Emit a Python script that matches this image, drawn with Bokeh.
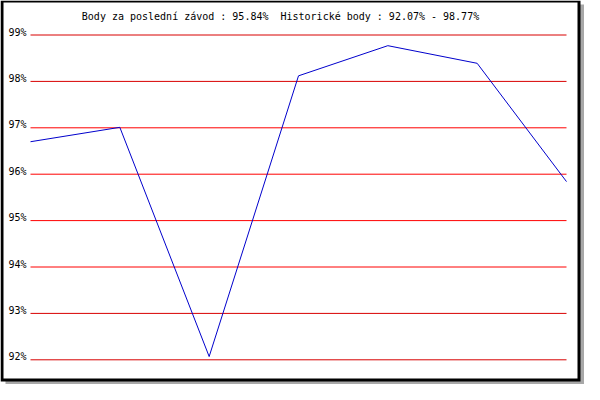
from bokeh.plotting import figure
from bokeh.models import Label
from bokeh.core.properties import value
from bokeh.embed import file_html
from bokeh.resources import INLINE

# ---- data ----
race_index = [0, 1, 2, 3, 4, 5, 6]
points_pct = [96.70, 97.01, 92.07, 98.12, 98.77, 98.39, 95.84]
grid_values = [92, 93, 94, 95, 96, 97, 98, 99]
grid_labels = ["92%", "93%", "94%", "95%", "96%", "97%", "98%", "99%"]
grid_colors = ["#d80000", "#d80000", "#ff0000", "#ff0000", "#ff0000", "#ff0000", "#d80000", "#d80000"]
title_text = (f"Body za poslední závod : {points_pct[-1]:.2f}%\u00a0 "
              f"Historické body : {min(points_pct):.2f}% - {max(points_pct):.2f}%")

# ---- layout (pixels within the figure) ----
W, H = 584, 384
gx0, gx1 = 30.0, 566.0          # horizontal extent of the grid
gy_top, gy_bot = 34.5, 359.3    # pixel y of 99% and 92%
ppx = (gx1 - gx0) / (race_index[-1] - race_index[0])
ppy = (gy_bot - gy_top) / (grid_values[-1] - grid_values[0])
x_start = race_index[0] - gx0 / ppx
x_end = race_index[-1] + (W - gx1) / ppx
y_end = grid_values[-1] + gy_top / ppy
y_start = grid_values[0] - (H - gy_bot) / ppy


def fx(px):
    return x_start + px / ppx


def fy(py):
    return y_end - py / ppy


p = figure(width=W, height=H, output_backend="svg", toolbar_location=None,
           x_range=(x_start, x_end), y_range=(y_start, y_end),
           x_axis_location=None, y_axis_location=None, min_border=0)
p.min_border_left = p.min_border_right = p.min_border_top = p.min_border_bottom = 0
p.grid.visible = False
p.outline_line_color = None
p.background_fill_color = "white"
p.border_fill_color = "white"

# frame: shadow, black border, white inside
p.quad(left=[fx(5)], right=[fx(584)], top=[fy(4)], bottom=[fy(384)],
       fill_color="#a8a8a8", line_color=None)
p.quad(left=[fx(0)], right=[fx(580)], top=[fy(0)], bottom=[fy(381)],
       fill_color="black", line_color=None)
p.quad(left=[fx(3)], right=[fx(577)], top=[fy(2)], bottom=[fy(378)],
       fill_color="white", line_color=None)

# horizontal grid lines
p.segment(x0=[race_index[0]] * len(grid_values), x1=[race_index[-1]] * len(grid_values),
          y0=grid_values, y1=grid_values, line_color=grid_colors, line_width=1)

# grid labels
p.text(x=[race_index[0]] * len(grid_values), y=grid_values, text=grid_labels,
       text_align="right", text_baseline="alphabetic", x_offset=-4, y_offset=-3,
       text_font=value("DejaVu Sans Mono"), text_font_size="10px", text_color="black")

# data line
p.line(x=race_index, y=points_pct, line_color="#0000cc", line_width=1)

# title
p.add_layout(Label(x=fx(280), y=fy(16), text=title_text, text_align="center",
                   text_baseline="alphabetic", text_font="DejaVu Sans Mono",
                   text_font_size="10px", text_color="black"))

open("out.html", "w").write(file_html(p, INLINE))
